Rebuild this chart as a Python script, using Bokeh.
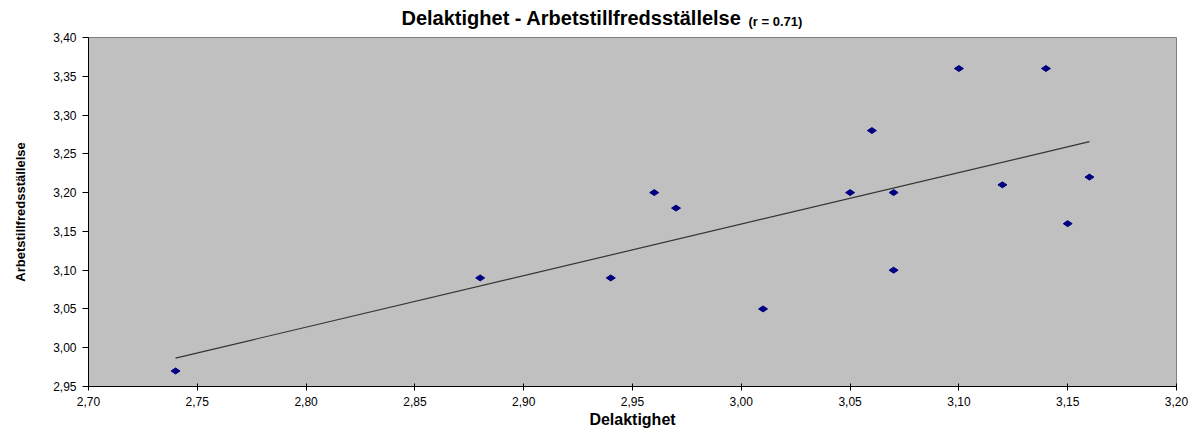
import numpy as np
from bokeh.plotting import figure
from bokeh.models import Range1d, FixedTicker, Label
from bokeh.embed import file_html
from bokeh.resources import INLINE

# ---- data ----
delaktighet = [2.74, 2.88, 2.94, 2.96, 2.97, 3.01, 3.05, 3.06, 3.07, 3.07, 3.10, 3.12, 3.14, 3.15, 3.16]
arbetstillfredsstallelse = [2.97, 3.09, 3.09, 3.20, 3.18, 3.05, 3.20, 3.28, 3.20, 3.10, 3.36, 3.21, 3.36, 3.16, 3.22]

x_ticks = [2.70, 2.75, 2.80, 2.85, 2.90, 2.95, 3.00, 3.05, 3.10, 3.15, 3.20]
x_tick_labels = ["2,70", "2,75", "2,80", "2,85", "2,90", "2,95", "3,00", "3,05", "3,10", "3,15", "3,20"]
y_ticks = [2.95, 3.00, 3.05, 3.10, 3.15, 3.20, 3.25, 3.30, 3.35, 3.40]
y_tick_labels = ["2,95", "3,00", "3,05", "3,10", "3,15", "3,20", "3,25", "3,30", "3,35", "3,40"]

title_main = "Delaktighet - Arbetstillfredsställelse"
title_r = "(r = 0.71)"
x_label = "Delaktighet"
y_label = "Arbetstillfredsställelse"

FONT = "Liberation Sans"

p = figure(width=1194, height=432, output_backend="svg", toolbar_location=None,
           x_range=Range1d(2.70, 3.20), y_range=Range1d(2.95, 3.40),
           min_border_left=88, min_border_right=18, min_border_top=34, min_border_bottom=46)
p.title = None
p.background_fill_color = "#C0C0C0"
p.border_fill_color = "white"
p.outline_line_color = "#808080"
p.outline_line_width = 1
p.xgrid.visible = False
p.ygrid.visible = False

# axes
p.xaxis.ticker = FixedTicker(ticks=x_ticks)
p.xaxis.major_label_overrides = dict(zip(x_ticks, x_tick_labels))
p.yaxis.ticker = FixedTicker(ticks=y_ticks)
p.yaxis.major_label_overrides = dict(zip(y_ticks, y_tick_labels))
for ax in (p.xaxis, p.yaxis):
    ax.axis_line_color = "black"
    ax.axis_line_width = 1
    ax.major_tick_line_color = "black"
    ax.minor_tick_line_color = None
    ax.major_label_text_font = FONT
    ax.major_label_text_font_size = "12px"
    ax.major_label_text_color = "black"
    ax.axis_label_text_font = FONT
    ax.axis_label_text_font_style = "bold"
    ax.axis_label_text_color = "black"

p.xaxis.major_tick_in = 3
p.xaxis.major_tick_out = 4
p.xaxis.major_label_standoff = 6
p.xaxis.axis_label = x_label
p.xaxis.axis_label_text_font_size = "16px"
p.xaxis.axis_label_standoff = 2

p.yaxis.major_tick_in = 0
p.yaxis.major_tick_out = 6
p.yaxis.major_label_standoff = 6
p.yaxis.axis_label = y_label
p.yaxis.axis_label_text_font_size = "13px"
p.yaxis.axis_label_standoff = 22

# trend line (least squares fit of the data)
xs = np.array(delaktighet)
ys = np.array(arbetstillfredsstallelse)
slope, intercept = np.polyfit(xs, ys, 1)
tx = np.array([xs.min(), xs.max()])
p.line(tx, slope * tx + intercept, line_color="#333333", line_width=1.2)

# points
p.scatter(delaktighet, arbetstillfredsstallelse, marker="diamond", size=9, angle=np.pi / 2,
          fill_color="#000080", line_color="#000080")

# title in two sizes, as labels in the panel above the frame
p.add_layout(Label(x=313, y=20, x_units="screen", y_units="screen", text=title_main,
                   text_font=FONT, text_font_style="bold", text_font_size="20px",
                   text_color="black", text_align="left", text_baseline="alphabetic"), "above")
p.add_layout(Label(x=660, y=-6, x_units="screen", y_units="screen", text=title_r,
                   text_font=FONT, text_font_style="bold", text_font_size="13px",
                   text_color="black", text_align="left", text_baseline="alphabetic"), "above")

open("out.html", "w").write(file_html(p, INLINE))
